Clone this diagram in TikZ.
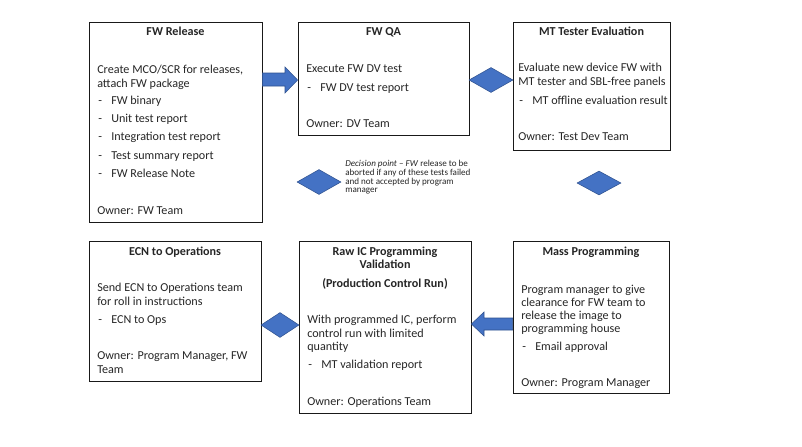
\documentclass[tikz,border=0pt]{standalone}
\usepackage{fontspec}
\setmainfont{Carlito}
\usetikzlibrary{shapes.geometric}
\definecolor{dblue}{HTML}{4472C4}
\definecolor{dblueedge}{HTML}{2F528F}
\definecolor{txtc}{HTML}{262626}
\newcommand\tl[4]{\node[txt] (#1) at (#2,#3) {#4};}
\newcommand\itm[1]{\makebox[9.75pt][l]{-}#1}
\begin{document}
\begin{tikzpicture}[x=0.75pt,y=-0.75pt,
  box/.style={draw=black!90, line width=0.6pt, inner sep=0pt, fill=white},
  txt/.style={anchor=base west, inner sep=0pt, font=\fontsize{9.1}{11}\selectfont, text=txtc},
  ttl/.style={anchor=base, inner sep=0pt, font=\fontsize{9.1}{11}\selectfont\bfseries, text=txtc},
  dec/.style={anchor=base west, inner sep=0pt, font=\fontsize{6.8}{8}\selectfont, text=txtc},
  dia/.style={diamond, fill=dblue, draw=dblueedge, line width=0.4pt, inner sep=0pt},
  barrow/.style={fill=dblue, draw=dblueedge, line width=0.4pt}]
\useasboundingbox[fill=white] (0,0) rectangle (802,446);

% boxes
\node[box, minimum width=173*0.75pt, minimum height=200*0.75pt] (rel) at (175.5,122) {};
\node[box, minimum width=171*0.75pt, minimum height=113*0.75pt] (qa) at (383.5,78.5) {};
\node[box, minimum width=157*0.75pt, minimum height=128*0.75pt] (mt) at (591.5,86) {};
\node[box, minimum width=172*0.75pt, minimum height=140*0.75pt] (ecn) at (175,311) {};
\node[box, minimum width=172*0.75pt, minimum height=172*0.75pt] (raw) at (385,327) {};
\node[box, minimum width=156*0.75pt, minimum height=152*0.75pt] (mass) at (591,317) {};

% FW Release
\node[ttl] (relT) at (175.5,36) {FW Release};
\tl{rel1}{97}{73}{Create MCO/SCR for releases,}
\tl{rel2}{97}{87.5}{attach FW package}
\tl{rel3}{98}{104}{\itm{FW binary}}
\tl{rel4}{98}{122}{\itm{Unit test report}}
\tl{rel5}{98}{140.5}{\itm{Integration test report}}
\tl{rel6}{98}{159}{\itm{Test summary report}}
\tl{rel7}{98}{177}{\itm{FW Release Note}}
\tl{relO}{97}{214}{Owner: FW Team}

% FW QA
\node[ttl] (qaT) at (383.5,36) {FW QA};
\tl{qa1}{306}{72}{Execute FW DV test}
\tl{qa2}{307}{91}{\itm{FW DV test report}}
\tl{qaO}{306}{127}{Owner: DV Team}

% MT Tester Evaluation
\node[ttl] (mtT) at (591.5,36) {MT Tester Evaluation};
\tl{mt1}{518}{71}{Evaluate new device FW with}
\tl{mt2}{518}{85}{MT tester and SBL-free panels}
\tl{mt3}{519}{104}{\itm{MT offline evaluation result}}
\tl{mtO}{518}{140}{Owner: Test Dev Team}

% ECN to Operations
\node[ttl] (ecnT) at (175,255) {ECN to Operations};
\tl{ecn1}{97}{291.5}{Send ECN to Operations team}
\tl{ecn2}{97}{305}{for roll in instructions}
\tl{ecn3}{98}{323}{\itm{ECN to Ops}}
\tl{ecnO}{97}{359}{Owner: Program Manager, FW}
\tl{ecnO2}{97}{373}{Team}

% Raw IC Programming Validation
\node[ttl] (rawT1) at (385,255) {Raw IC Programming};
\node[ttl] (rawT2) at (385,268) {Validation};
\node[ttl] (rawT3) at (385,287) {(Production Control Run)};
\tl{raw1}{307}{323}{With programmed IC, perform}
\tl{raw2}{307}{337}{control run with limited}
\tl{raw3}{307}{350}{quantity}
\tl{raw4}{308}{368}{\itm{MT validation report}}
\tl{rawO}{307}{405}{Owner: Operations Team}

% Mass Programming
\node[ttl] (massT) at (591,255) {Mass Programming};
\tl{mass1}{521}{293}{Program manager to give}
\tl{mass2}{521}{306.5}{clearance for FW team to}
\tl{mass3}{521}{319.5}{release the image to}
\tl{mass4}{521}{332}{programming house}
\tl{mass5}{522}{350}{\itm{Email approval}}
\tl{massO}{521}{386}{Owner: Program Manager}

% block arrows
\path[barrow] (rel.east |- 0,73) -- (285,73) -- (285,67) -- (qa.west |- 0,80)
  -- (285,93) -- (285,86) -- (rel.east |- 0,86) -- cycle;
\path[barrow] (mass.west |- 0,318) -- (484,318) -- (484,312) -- (raw.east |- 0,324)
  -- (484,336) -- (484,330) -- (mass.west |- 0,330) -- cycle;

% diamonds
\node[dia, minimum width=44*0.75pt, minimum height=25*0.75pt] (d1) at (491,80) {};
\node[dia, minimum width=44*0.75pt, minimum height=25*0.75pt] (d2) at (319,182) {};
\node[dia, minimum width=44*0.75pt, minimum height=24*0.75pt] (d3) at (599,183) {};
\node[dia, minimum width=38*0.75pt, minimum height=25*0.75pt] (d4) at (280,325) {};

% decision text
\node[dec] (dec1) at (345,166.7) {\textit{Decision point} – \textit{FW} release to be};
\node[dec] (dec2) at (345,175.7) {aborted if any of these tests failed};
\node[dec] (dec3) at (345,184.2) {and not accepted by program};
\node[dec] (dec4) at (345,192.7) {manager};
\end{tikzpicture}
\end{document}
